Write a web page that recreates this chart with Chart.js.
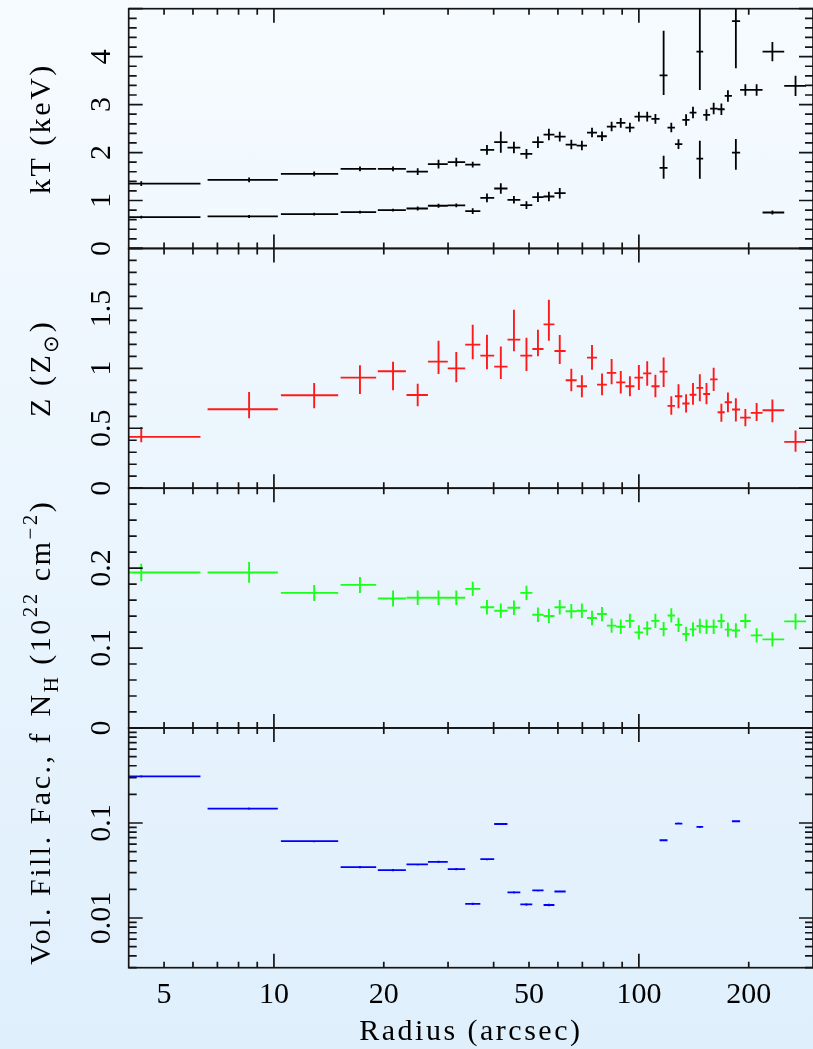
<!DOCTYPE html>
<html>
<head>
<meta charset="utf-8">
<title>Radial profiles</title>
<script src="https://cdn.jsdelivr.net/npm/chart.js@4.4.1/dist/chart.umd.min.js"></script>
<style>
  html, body { margin: 0; padding: 0; }
  body {
    width: 813px; height: 1049px; overflow: hidden;
    background: linear-gradient(to bottom, #f6fbff 0%, #dfeffc 100%);
  }
  #wrap { position: relative; width: 813px; height: 1049px; }
  #wrap canvas { position: absolute; left: 0; top: 0; }
</style>
</head>
<body>
<div id="wrap">
  <canvas id="panelKT" width="813" height="1049"></canvas>
  <canvas id="panelZ" width="813" height="1049"></canvas>
  <canvas id="panelNH" width="813" height="1049"></canvas>
  <canvas id="panelFill" width="813" height="1049"></canvas>
</div>
<script>
// Annuli: representative radius and inner/outer edges (arcsec)
const radius = [4.33, 8.55, 12.89, 17.21, 21.2, 24.77, 28.25, 31.6, 35.05, 38.35,
  41.85, 45.46, 49.2, 52.9, 56.68, 60.7, 65.3, 69.8, 74.4, 79.25,
  84.2, 89.2, 94.5, 100, 105.4, 111, 116.9, 122.7, 128.4, 134.7,
  140.7, 146.9, 153.2, 160.3, 168.3, 175.4, 184.4, 195.8, 210.2, 232.2, 268.7];
const rIn = [2.4, 6.58, 10.45, 15.23, 19.26, 23.08, 26.42, 29.94, 33.43, 36.78,
  40.14, 43.65, 47.33, 51.05, 54.8, 58.7, 63.0, 67.55, 72.1, 76.8,
  81.7, 86.7, 91.85, 97.25, 102.7, 108.2, 113.95, 119.8, 125.55, 131.55,
  137.7, 143.8, 150.05, 156.75, 164.3, 171.85, 179.9, 189.4, 202.6, 218.2, 250.2];
const rOut = [6.29, 10.25, 15.0, 19.06, 22.99, 26.42, 29.94, 33.43, 36.78, 40.14,
  43.65, 47.33, 51.05, 54.8, 58.7, 63.0, 67.55, 72.1, 76.8, 81.7,
  86.7, 91.85, 97.25, 102.7, 108.2, 113.95, 119.8, 125.55, 131.55, 137.7,
  143.8, 150.05, 156.75, 164.3, 171.85, 179.9, 189.4, 202.6, 218.2, 250.2, 287.2];

// Hot temperature component (keV)
const kTHot = [1.354, 1.431, 1.556, 1.66, 1.66, 1.604, 1.758, 1.80, 1.75, 2.056,
  2.217, 2.104, 1.973, 2.217, 2.375, 2.333, 2.167, 2.146, 2.417, 2.34,
  2.542, 2.619, 2.521, 2.75, 2.75, 2.702, 3.61, 2.521, null, 2.681,
  2.833, 4.104, 2.785, 2.917, 2.903, 3.18, 4.74, 3.306, 3.306, 4.104, 3.39];
const kTHotErrLo = [0.05, 0.05, 0.05, 0.05, 0.05, 0.07, 0.09, 0.09, 0.06, 0.1,
  0.22, 0.12, 0.1, 0.12, 0.12, 0.1, 0.1, 0.1, 0.1, 0.1,
  0.1, 0.1, 0.1, 0.1, 0.1, 0.1, 0.41, 0.1, 0, 0.12,
  0.12, 0.8, 0.12, 0.12, 0.12, 0.12, 0.98, 0.12, 0.12, 0.2, 0.21];
const kTHotErrHi = [0.05, 0.05, 0.05, 0.05, 0.05, 0.07, 0.09, 0.09, 0.06, 0.1,
  0.22, 0.12, 0.1, 0.12, 0.12, 0.1, 0.1, 0.1, 0.1, 0.1,
  0.1, 0.1, 0.1, 0.1, 0.1, 0.1, 0.93, 0.1, 0, 0.12,
  0.12, 1.3, 0.12, 0.12, 0.12, 0.12, 0.8, 0.12, 0.12, 0.2, 0.21];

// Cool temperature component (keV), only where a second component was fitted
const kTCool = [0.654, 0.667, 0.716, 0.758, 0.80, 0.833, 0.89, 0.90, 0.779, 1.056,
  1.25, 1.015, 0.903, 1.07, 1.083, 1.153, null, null, null, null,
  null, null, null, null, null, null, 1.681, null, 2.175, null,
  null, 1.875, null, null, null, null, 2.0, null, null, 0.75, null];
const kTCoolErrLo = [0.03, 0.03, 0.03, 0.03, 0.03, 0.04, 0.04, 0.04, 0.06, 0.09,
  0.11, 0.08, 0.08, 0.1, 0.1, 0.11, 0, 0, 0, 0,
  0, 0, 0, 0, 0, 0, 0.23, 0, 0.1, 0,
  0, 0.42, 0, 0, 0, 0, 0.36, 0, 0, 0.04, 0];
const kTCoolErrHi = [0.03, 0.03, 0.03, 0.03, 0.03, 0.04, 0.04, 0.04, 0.06, 0.09,
  0.11, 0.08, 0.08, 0.1, 0.1, 0.11, 0, 0, 0, 0,
  0, 0, 0, 0, 0, 0, 0.25, 0, 0.1, 0,
  0, 0.37, 0, 0, 0, 0, 0.28, 0, 0, 0.04, 0];

// Abundance (solar)
const metal = [0.428, 0.658, 0.775, 0.9225, 0.975, 0.778, 1.056, 1.0, 1.1975, 1.106,
  1.014, 1.239, 1.106, 1.1617, 1.367, 1.145, 0.9, 0.85, 1.089, 0.864,
  0.9617, 0.883, 0.85, 0.9225, 0.958, 0.85, 0.9725, 0.6867, 0.767, 0.706,
  0.78, 0.8367, 0.786, 0.908, 0.633, 0.717, 0.656, 0.589, 0.628, 0.65, 0.3867];
const metalErrLo = [0.044, 0.075, 0.108, 0.136, 0.158, 0.094, 0.103, 0.117, 0.122, 0.114,
  0.103, 0.097, 0.128, 0.061, 0.136, 0.108, 0.092, 0.092, 0.1, 0.089,
  0.094, 0.092, 0.083, 0.103, 0.103, 0.092, 0.128, 0.075, 0.1, 0.075,
  0.083, 0.111, 0.086, 0.097, 0.078, 0.083, 0.1, 0.072, 0.067, 0.1, 0.083];
const metalErrHi = [0.083, 0.144, 0.103, 0.103, 0.08, 0.094, 0.175, 0.136, 0.167, 0.175,
  0.169, 0.25, 0.15, 0.161, 0.206, 0.133, 0.097, 0.092, 0.106, 0.092,
  0.117, 0.094, 0.083, 0.106, 0.1, 0.097, 0.117, 0.081, 0.1, 0.078,
  0.097, 0.114, 0.092, 0.097, 0.072, 0.081, 0.094, 0.072, 0.083, 0.089, 0.094];

// Absorbing column (1e22 cm^-2)
const nH = [0.1946, 0.1946, 0.169, 0.179, 0.162, 0.163, 0.163, 0.163, 0.174, 0.151,
  0.1467, 0.1504, 0.169, 0.1417, 0.14, 0.151, 0.146, 0.1467, 0.1375, 0.1425,
  0.128, 0.1267, 0.134, 0.1196, 0.1246, 0.134, 0.1237, 0.1408, 0.129, 0.1175,
  0.1233, 0.1275, 0.1267, 0.1267, 0.1338, 0.123, 0.122, 0.1338, 0.1158, 0.1108, 0.1333];
const nHErr = [0.011, 0.013, 0.01, 0.01, 0.01, 0.009, 0.009, 0.009, 0.009, 0.009,
  0.009, 0.009, 0.009, 0.009, 0.009, 0.009, 0.009, 0.009, 0.009, 0.009,
  0.009, 0.009, 0.009, 0.009, 0.009, 0.009, 0.009, 0.009, 0.009, 0.009,
  0.009, 0.009, 0.009, 0.009, 0.009, 0.009, 0.009, 0.009, 0.009, 0.009, 0.01];

// Volume filling factor of the cool phase
const fillFactor = [0.309, 0.1416, 0.0643, 0.0343, 0.0319, 0.0366, 0.039, 0.0327, 0.0141, 0.0416,
  0.0976, 0.0186, 0.0139, 0.0195, 0.0137, 0.019, null, null, null, null,
  null, null, null, null, null, null, 0.0658, null, 0.0986, null,
  null, 0.0908, null, null, null, null, 0.1043, null, null, null, null];
const fillErr = [0.008, 0.0035, 0.0016, 0.0009, 0.0008, 0.0009, 0.001, 0.0008, 0.0004, 0.001,
  0.0025, 0.0005, 0.0004, 0.0005, 0.0004, 0.0005, 0, 0, 0, 0,
  0, 0, 0, 0, 0, 0, 0.0016, 0, 0.0025, 0,
  0, 0.0023, 0, 0, 0, 0, 0.0026, 0, 0, 0, 0];

// Tick values
const xMajorTicks = [10, 100];
const xMinorTicks = [5, 6, 7, 8, 9, 20, 30, 40, 50, 60, 70, 80, 90, 200];
const xTickLabels = [5, 10, 20, 50, 100, 200];
const kTTickLabels = [0, 1, 2, 3, 4];
const metalTickLabels = [0, 0.5, 1, 1.5];
const nHTickLabels = [0, 0.1, 0.2];
const fillTickLabels = [0.01, 0.1];

// Panel geometry
const PLOT_LEFT = 128.7;
const PLOT_RIGHT = 820.4;
const PANEL_H = 239.75;
const PANEL_TOP0 = 8.7;
const CANVAS_W = 813, CANVAS_H = 1049;
const FONT = '"Liberation Serif", "Times New Roman", serif';

function steps(from, to, step) {
  const out = [];
  for (let v = from; v <= to + 1e-9; v += step) out.push(+v.toFixed(6));
  return out;
}

function logMinor(lo, hi) {
  const out = [];
  for (let d = Math.floor(Math.log10(lo)); d < Math.ceil(Math.log10(hi)); d++) {
    for (let m = 2; m <= 9; m++) {
      const v = m * Math.pow(10, d);
      if (v >= lo && v <= hi) out.push(v);
    }
  }
  return out;
}

// Turn values into crosses: horizontal bar over the annulus, vertical bar for the error
function crossPoints(vals, errLo, errHi) {
  const pts = [];
  vals.forEach((v, i) => {
    if (v === null) return;
    pts.push({x: rIn[i], y: v}, {x: rOut[i], y: v}, {x: radius[i], y: null});
    pts.push({x: radius[i], y: v - errLo[i]}, {x: radius[i], y: v + errHi[i]}, {x: radius[i], y: null});
  });
  return pts;
}

function errorSet(label, pts, color, width) {
  return {
    label: label,
    data: pts,
    showLine: true,
    spanGaps: false,
    borderColor: color,
    borderWidth: width,
    borderCapStyle: 'butt',
    pointRadius: 0,
    pointHoverRadius: 0
  };
}

// Draws rotated (bottom-to-top) text built from plain/sub/sup parts
function drawRotatedRich(ctx, parts, baseX, centerY, size, spacing) {
  const fontFor = p => (p.sub || p.sup ? Math.round(size * 0.7) : size) + 'px ' + FONT;
  ctx.save();
  ctx.letterSpacing = spacing + 'px';
  let total = 0;
  parts.forEach(p => { ctx.font = fontFor(p); total += ctx.measureText(p.t).width; });
  ctx.translate(baseX, centerY);
  ctx.rotate(-Math.PI / 2);
  ctx.textAlign = 'left';
  ctx.textBaseline = 'alphabetic';
  let x = -total / 2;
  parts.forEach(p => {
    ctx.font = fontFor(p);
    const dy = p.sub ? size * 0.28 : (p.sup ? -size * 0.42 : 0);
    ctx.fillText(p.t, x, dy);
    x += ctx.measureText(p.t).width;
  });
  ctx.restore();
}

// Frame, inward ticks on all four sides, tick labels and axis titles
const axesFrame = {
  id: 'axesFrame',
  afterDraw(chart, args, o) {
    const {ctx, chartArea: a} = chart;
    const xs = chart.scales.x, ys = chart.scales.y;
    ctx.save();
    ctx.strokeStyle = '#141414';
    ctx.lineWidth = 1.7;
    ctx.beginPath();
    const seg = (x1, y1, x2, y2) => { ctx.moveTo(x1, y1); ctx.lineTo(x2, y2); };
    xMajorTicks.forEach(v => {
      const px = xs.getPixelForValue(v);
      seg(px, a.top, px, a.top + 14); seg(px, a.bottom, px, a.bottom - 14);
    });
    xMinorTicks.forEach(v => {
      const px = xs.getPixelForValue(v);
      seg(px, a.top, px, a.top + 6); seg(px, a.bottom, px, a.bottom - 6);
    });
    o.yMajor.forEach(v => {
      const py = ys.getPixelForValue(v);
      seg(a.left, py, a.left + 14, py); seg(a.right, py, a.right - 14, py);
    });
    o.yMinor.forEach(v => {
      const py = ys.getPixelForValue(v);
      seg(a.left, py, a.left + 8, py); seg(a.right, py, a.right - 8, py);
    });
    ctx.stroke();
    ctx.strokeRect(a.left, a.top, a.right - a.left, a.bottom - a.top);

    // y tick labels, rotated
    ctx.fillStyle = '#000';
    ctx.font = '30px ' + FONT;
    ctx.textAlign = 'center';
    ctx.textBaseline = 'alphabetic';
    o.yLabels.forEach(v => {
      const py = ys.getPixelForValue(v);
      ctx.save();
      ctx.translate(110, py);
      ctx.rotate(-Math.PI / 2);
      ctx.fillText(String(v), 0, 0);
      ctx.restore();
    });

    // x tick labels and title on the bottom panel only
    if (o.xLabels) {
      xTickLabels.forEach(v => {
        ctx.fillText(String(v), xs.getPixelForValue(v), a.bottom + 35);
      });
      ctx.save();
      ctx.letterSpacing = '2.5px';
      ctx.fillText('Radius (arcsec)', (a.left + a.right) / 2, 1040);
      ctx.restore();
    }
    ctx.restore();

    ctx.save();
    ctx.fillStyle = '#000';
    drawRotatedRich(ctx, o.title, 50, (a.top + a.bottom) / 2, 30, 2.5);
    ctx.restore();
  }
};

function makePanel(canvasId, index, datasets, yScale, frameOpts) {
  const top = PANEL_TOP0 + index * PANEL_H;
  return new Chart(document.getElementById(canvasId), {
    type: 'scatter',
    data: {datasets: datasets},
    options: {
      responsive: false,
      animation: false,
      events: [],
      layout: {
        padding: {
          left: PLOT_LEFT,
          right: CANVAS_W - PLOT_RIGHT,
          top: top,
          bottom: CANVAS_H - top - PANEL_H
        }
      },
      scales: {
        x: {type: 'logarithmic', min: 4, max: 300, display: false},
        y: Object.assign({display: false}, yScale)
      },
      plugins: {
        legend: {display: false},
        tooltip: {enabled: false},
        axesFrame: frameOpts
      }
    },
    plugins: [axesFrame]
  });
}

// Temperature
makePanel('panelKT', 0, [
  errorSet('kT hot', crossPoints(kTHot, kTHotErrLo, kTHotErrHi), '#000000', 1.8),
  errorSet('kT cool', crossPoints(kTCool, kTCoolErrLo, kTCoolErrHi), '#000000', 1.8)
], {type: 'linear', min: 0, max: 5}, {
  yMajor: steps(0, 5, 1), yMinor: steps(0.2, 4.8, 0.2), yLabels: kTTickLabels,
  title: [{t: 'kT (keV)'}], xLabels: false
});

// Abundance
makePanel('panelZ', 1, [
  errorSet('Z', crossPoints(metal, metalErrLo, metalErrHi), '#ff1a1a', 1.9)
], {type: 'linear', min: 0, max: 2}, {
  yMajor: steps(0, 2, 0.5), yMinor: steps(0.1, 1.9, 0.1), yLabels: metalTickLabels,
  title: [{t: 'Z (Z'}, {t: '\u2299', sub: true}, {t: ')'}], xLabels: false
});

// Column density
makePanel('panelNH', 2, [
  errorSet('NH', crossPoints(nH, nHErr, nHErr), '#1aff1a', 1.9)
], {type: 'linear', min: 0, max: 0.3}, {
  yMajor: steps(0, 0.3, 0.1), yMinor: steps(0.02, 0.28, 0.02), yLabels: nHTickLabels,
  title: [{t: 'N'}, {t: 'H', sub: true}, {t: ' (10'}, {t: '22', sup: true}, {t: ' cm'},
          {t: '\u22122', sup: true}, {t: ')'}],
  xLabels: false
});

// Filling factor
makePanel('panelFill', 3, [
  errorSet('f', crossPoints(fillFactor, fillErr, fillErr), '#0000ff', 1.8)
], {type: 'logarithmic', min: 0.003, max: 1}, {
  yMajor: [0.01, 0.1, 1], yMinor: logMinor(0.003, 1), yLabels: fillTickLabels,
  title: [{t: 'Vol. Fill. Fac., f'}], xLabels: true
});
</script>
</body>
</html>
